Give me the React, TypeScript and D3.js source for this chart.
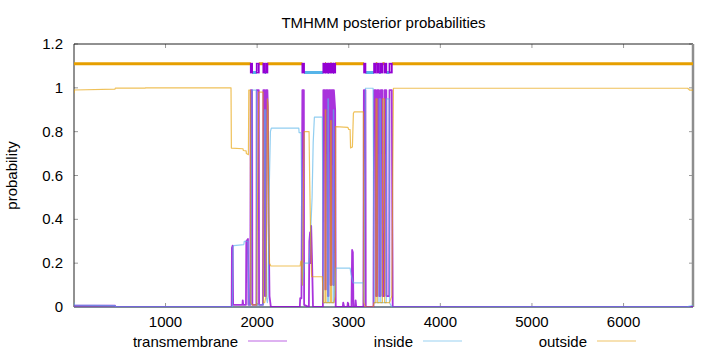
import React from "react";
import * as d3 from "d3";

// ---- data (sequence position, posterior probability) ----
const seqLength = 6758;
const xTicks = [1000, 2000, 3000, 4000, 5000, 6000];
const yTicks = [0, 0.2, 0.4, 0.6, 0.8, 1, 1.2];
const yTickLabels = ["0", "0.2", "0.4", "0.6", "0.8", "1", "1.2"];

const transmembrane: [number, number][] = [
  [1, 0.006], [449, 0.006], [452, 0.001], [1722, 0.001], [1725, 0.27], [1733, 0.28], [1738, 0.01],
  [1840, 0.01], [1843, 0.03], [1848, 0.01], [1878, 0.01], [1882, 0.3], [1900, 0.31], [1905, 0.01],
  [1925, 0.01], [1931, 0.99], [1945, 0.99], [1948, 0.01], [1992, 0.01], [1996, 0.99], [2018, 0.99],
  [2021, 0.01], [2064, 0.01], [2068, 0.99], [2082, 0.99], [2085, 0.05], [2095, 0.05], [2098, 0.99],
  [2112, 0.99], [2118, 0.9], [2125, 0.4], [2135, 0.05], [2150, 0.0], [2466, 0.0], [2470, 0.04],
  [2484, 0.04], [2494, 0.99], [2510, 0.99], [2513, 0.01], [2565, 0.0], [2570, 0.3], [2578, 0.34],
  [2583, 0.2], [2590, 0.37], [2600, 0.2], [2610, 0.0], [2718, 0.0], [2723, 0.99], [2741, 0.99],
  [2744, 0.08], [2749, 0.08], [2752, 0.99], [2770, 0.99], [2773, 0.05], [2779, 0.05], [2782, 0.99],
  [2800, 0.99], [2803, 0.1], [2809, 0.1], [2812, 0.99], [2830, 0.99], [2832, 0.1], [2836, 0.1],
  [2838, 0.99], [2852, 0.9], [2858, 0.0], [2935, 0.0], [2940, 0.02], [2950, 0.0], [2985, 0.0],
  [2990, 0.02], [2998, 0.0], [3030, 0.0], [3037, 0.26], [3045, 0.25], [3051, 0.0], [3070, 0.0],
  [3075, 0.03], [3082, 0.0], [3160, 0.0], [3165, 0.99], [3182, 0.99], [3186, 0.0], [3270, 0.0],
  [3277, 0.99], [3295, 0.99], [3298, 0.05], [3309, 0.05], [3312, 0.99], [3330, 0.99], [3333, 0.05],
  [3347, 0.05], [3350, 0.99], [3368, 0.99], [3371, 0.05], [3389, 0.05], [3392, 0.99], [3410, 0.99],
  [3413, 0.05], [3442, 0.05], [3445, 0.99], [3470, 0.99], [3480, 0.0], [6758, 0.0],
];

const inside: [number, number][] = [
  [1, 0.02], [5, 0.009], [449, 0.006], [452, 0.001], [1730, 0.001], [1737, 0.275], [1745, 0.28],
  [1855, 0.285], [1860, 0.3], [1900, 0.3], [1909, 0.01], [1931, 0.01], [1945, 0.99], [1992, 0.99],
  [1996, 0.01], [2068, 0.01], [2082, 0.9], [2094, 0.9], [2098, 0.05], [2112, 0.02], [2119, 0.05],
  [2130, 0.5], [2145, 0.8], [2155, 0.816], [2455, 0.816], [2458, 0.796], [2480, 0.796], [2486, 0.5],
  [2494, 0.1], [2505, 0.15], [2513, 0.2], [2567, 0.2], [2580, 0.3], [2600, 0.5], [2612, 0.75],
  [2625, 0.866], [2712, 0.866], [2723, 0.02], [2770, 0.02], [2773, 0.95], [2779, 0.95], [2782, 0.02],
  [2830, 0.02], [2832, 0.9], [2836, 0.9], [2838, 0.02], [2852, 0.1], [2858, 0.177], [3015, 0.177],
  [3025, 0.15], [3045, 0.115], [3051, 0.11], [3160, 0.11], [3168, 0.02], [3182, 0.998], [3266, 0.998],
  [3277, 0.02], [3330, 0.02], [3333, 0.95], [3347, 0.95], [3350, 0.02], [3410, 0.02], [3413, 0.95],
  [3442, 0.95], [3445, 0.02], [3470, 0.0], [6700, 0.002], [6758, 0.008],
];

const outside: [number, number][] = [
  [1, 0.975], [5, 0.99], [449, 0.994], [452, 0.999], [780, 0.999], [783, 1.0], [1715, 1.0],
  [1719, 0.725], [1846, 0.722], [1849, 0.714], [1880, 0.712], [1883, 0.7], [1905, 0.695],
  [1909, 0.99], [1925, 0.99], [1931, 0.02], [1945, 0.01], [1996, 0.01], [2000, 0.3], [2018, 0.98],
  [2064, 0.98], [2068, 0.02], [2082, 0.02], [2098, 0.05], [2112, 0.95], [2119, 0.92], [2125, 0.5],
  [2135, 0.2], [2150, 0.187], [2470, 0.187], [2476, 0.207], [2483, 0.21], [2494, 0.1], [2505, 0.5],
  [2513, 0.8], [2567, 0.8], [2573, 0.6], [2585, 0.3], [2595, 0.138], [2712, 0.138], [2723, 0.02],
  [2741, 0.02], [2744, 0.9], [2749, 0.9], [2752, 0.02], [2800, 0.02], [2803, 0.85], [2809, 0.85],
  [2812, 0.02], [2838, 0.02], [2852, 0.05], [2858, 0.823], [2990, 0.82], [3000, 0.81], [3015, 0.81],
  [3020, 0.726], [3040, 0.73], [3051, 0.884], [3060, 0.89], [3160, 0.89], [3165, 0.02], [3182, 0.0],
  [3266, 0.0], [3277, 0.02], [3295, 0.02], [3298, 0.95], [3309, 0.95], [3312, 0.02], [3368, 0.02],
  [3371, 0.95], [3389, 0.95], [3392, 0.02], [3445, 0.02], [3470, 0.05], [3488, 0.998], [6700, 0.998],
  [6720, 0.99], [6758, 0.99],
];

// predicted topology (segments, start/end positions)
const topoOutside: [number, number][] = [
  [1, 1931], [2018, 2068], [2112, 2494], [2741, 2752], [2800, 2812], [2852, 3168], [3295, 3312],
  [3368, 3392], [3470, 6758],
];
const topoInside: [number, number][] = [
  [1945, 1996], [2082, 2098], [2512, 2723], [2770, 2782], [2830, 2838], [3182, 3277], [3330, 3350],
  [3410, 3445],
];
const topoTM: [number, number][] = [
  [1931, 1945], [1996, 2018], [2068, 2082], [2098, 2112], [2494, 2512], [2723, 2741], [2752, 2770],
  [2782, 2800], [2812, 2830], [2838, 2852], [3168, 3182], [3277, 3295], [3312, 3330], [3350, 3368],
  [3392, 3410], [3445, 3470],
];
const topoOutsideLevel = 1.11;
const topoInsideLevel = 1.07;

const seriesNames = ["transmembrane", "inside", "outside"];
const seriesColors = ["#9400d3", "#56b4e9", "#e69f00"];

// ---- layout ----
const W = 720, H = 352;
const L = 74, R = 693, T = 44, B = 307;
const FONT = "'Liberation Sans', Arial, sans-serif";

export default function App() {
  const x = d3.scaleLinear().domain([1, seqLength]).range([L, R]);
  const y = d3.scaleLinear().domain([0, 1.2]).range([B, T]);
  const line = d3.line<[number, number]>().x(d => x(d[0])).y(d => y(d[1]));
  const series = [transmembrane, inside, outside];
  const legendX = [248, 423, 597];

  return (
    <div style={{ position: "absolute", left: 0, top: 0 }}>
      <svg width={W} height={H} style={{ display: "block", background: "#fff" }} fontFamily={FONT}>
        <defs>
          <clipPath id="plot">
            <rect x={L} y={T} width={R - L} height={B - T} />
          </clipPath>
        </defs>
        {/* ticks */}
        {yTicks.map((t, i) => (
          <g key={"y" + i}>
            <line x1={L} x2={L + 4} y1={y(t)} y2={y(t)} stroke="#999" />
            <line x1={R - 4} x2={R} y1={y(t)} y2={y(t)} stroke="#999" />
            <text x={63} y={y(t) + 5} textAnchor="end" fontSize={15} fill="#000">{yTickLabels[i]}</text>
          </g>
        ))}
        {xTicks.map((t) => (
          <g key={"x" + t}>
            <line x1={x(t)} x2={x(t)} y1={B} y2={B - 4} stroke="#999" />
            <line x1={x(t)} x2={x(t)} y1={T} y2={T + 4} stroke="#999" />
            <text x={x(t)} y={327} textAnchor="middle" fontSize={15} fill="#000">{t}</text>
          </g>
        ))}
        {/* frame */}
        <path d={`M${L},${B}V${T}H${R}`} fill="none" stroke="#222" strokeWidth={1} />
        <line x1={R} x2={R} y1={T} y2={B} stroke="#8e8e8e" strokeWidth={2.5} />
        <line x1={L} x2={R} y1={B} y2={B} stroke="#7d8a96" strokeWidth={2} />

        <g clipPath="url(#plot)">
          {series.map((s, i) => (
            <path key={i} d={line(s) || ""} fill="none" stroke={seriesColors[i]}
              strokeOpacity={i === 0 ? 0.8 : 0.65} strokeWidth={i === 0 ? 1.8 : 1.2} strokeLinejoin="round" />
          ))}
          {/* topology */}
          {topoOutside.map((s, i) => (
            <line key={"o" + i} x1={x(s[0])} x2={x(s[1])} y1={y(topoOutsideLevel)} y2={y(topoOutsideLevel)}
              stroke={seriesColors[2]} strokeWidth={3} />
          ))}
          {topoInside.map((s, i) => (
            <line key={"i" + i} x1={x(s[0])} x2={x(s[1])} y1={y(topoInsideLevel)} y2={y(topoInsideLevel)}
              stroke={seriesColors[1]} strokeWidth={3} />
          ))}
          {topoTM.map((s, i) => (
            <rect key={"t" + i} x={x(s[0])} y={y(topoOutsideLevel)} width={x(s[1]) - x(s[0])}
              height={y(topoInsideLevel) - y(topoOutsideLevel)} fill="none" stroke={seriesColors[0]} strokeWidth={1.8} />
          ))}
        </g>

        {/* title & axis label */}
        <text x={(L + R) / 2} y={28} textAnchor="middle" fontSize={15} fill="#000">TMHMM posterior probabilities</text>
        <text transform={`translate(16.5,${(T + B) / 2}) rotate(-90)`} textAnchor="middle" fontSize={15} fill="#000">probability</text>

        {/* legend */}
        {seriesNames.map((n, i) => (
          <g key={n}>
            <text x={legendX[i] - 10} y={346.5} textAnchor="end" fontSize={15} fill="#000">{n}</text>
            <line x1={legendX[i]} x2={legendX[i] + 39} y1={341} y2={341} stroke={seriesColors[i]}
              strokeOpacity={0.6} strokeWidth={1.2} />
          </g>
        ))}
      </svg>
    </div>
  );
}
